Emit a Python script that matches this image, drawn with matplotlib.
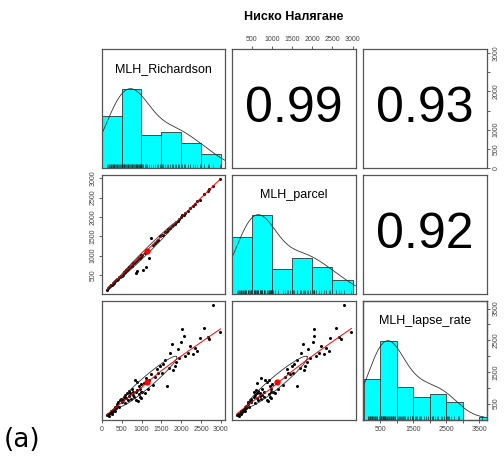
import numpy as np
import matplotlib
matplotlib.use("Agg")
import matplotlib.pyplot as plt

plt.rcParams['font.family'] = ['Liberation Sans', 'DejaVu Sans']

# ---------------- data ----------------
title = "Ниско Налягане"
var_names = ["MLH_Richardson", "MLH_parcel", "MLH_lapse_rate"]
corr_labels = ["0.99", "0.93", "0.92"]   # (R,P), (R,L), (P,L)
panel_label = "(a)"

mlh_richardson = [120, 160, 185, 210, 225, 240, 260, 275, 290, 305, 320, 340, 360, 375, 390, 410, 430, 455, 480,
                  510, 530, 550, 570, 590, 610, 630, 650, 670, 690, 710, 730, 750, 770, 790, 810, 830, 850, 865, 880,
                  895, 910, 925, 940, 955, 970, 980, 990, 995,
                  1020, 1050, 1080, 1110, 1150, 1190, 1230, 1280, 1330, 1380, 1420, 1470,
                  1520, 1550, 1600, 1640, 1680, 1720, 1760, 1800, 1840, 1880, 1910, 1950, 1990,
                  2030, 2060, 2100, 2170, 2230, 2300, 2350, 2400, 2470,
                  2580, 2670, 2700, 2800, 2990]
mlh_parcel = [125, 170, 180, 205, 235, 235, 255, 285, 280, 300, 330, 335, 365, 370, 400, 405, 440, 450, 475,
              470, 490, 560, 575, 580, 620, 625, 660, 665, 700, 705, 740, 745, 760, 800, 805, 840, 560, 870, 885,
              600, 915, 930, 945, 950, 975, 985, 985, 1010,
              1030, 640, 1075, 720, 1140, 930, 1460, 1270, 1320, 1370, 1410, 1510,
              1530, 1545, 1610, 1630, 1690, 1715, 1770, 1790, 1830, 1875, 1900, 1945, 2010,
              2050, 2040, 2090, 2160, 2220, 2290, 2340, 2410, 2450,
              2590, 2660, 2720, 2790, 2970]
mlh_lapse_rate = [140, 180, 120, 200, 260, 160, 230, 300, 250, 330, 280, 390, 350, 420, 480, 540, 380, 600, 650,
                  560, 620, 700, 520, 760, 680, 840, 600, 900, 740, 820, 640, 960, 780, 880, 700, 1230, 860, 620, 1180,
                  920, 580, 800, 1050, 720, 950, 660, 880, 1120,
                  880, 1150, 820, 1300, 950, 1250, 1420, 1100, 1350, 1580, 1480, 1700,
                  1480, 1750, 1880, 1060, 1620, 2100, 2390, 1560, 1690, 1820, 2220, 1950, 2450,
                  2860, 2640, 2010, 2110, 2330, 2070, 2250, 2160, 2560,
                  2880, 2600, 2540, 3600, 2750]

richardson_ticks = [0, 500, 1000, 1500, 2000, 2500, 3000]
richardson_bottom_labels = ["0", "500", "1000", "1500", "2000", "2500", "3000"]
richardson_right_labels = ["0", "500", "1000", "", "2000", "", "3000"]
parcel_ticks = [500, 1000, 1500, 2000, 2500, 3000]
parcel_labels = ["500", "1000", "1500", "2000", "2500", "3000"]
lapse_ticks = [500, 1000, 1500, 2000, 2500, 3000, 3500]
lapse_labels = ["500", "", "1500", "", "2500", "", "3500"]

data = [np.array(mlh_richardson, float), np.array(mlh_parcel, float), np.array(mlh_lapse_rate, float)]

# ---------------- helpers ----------------
def rlim(v):
    lo, hi = v.min(), v.max()
    d = 0.04 * (hi - lo)
    return lo - d, hi + d

def density(v):
    n = len(v)
    sd = np.std(v, ddof=1)
    q75, q25 = np.percentile(v, [75, 25])
    bw = 1.06 * min(sd, (q75 - q25) / 1.34) * n ** -0.2 * 1.2
    g = np.linspace(v.min() - 3 * bw, v.max() + 3 * bw, 512)
    d = np.exp(-0.5 * ((g[:, None] - v[None, :]) / bw) ** 2).sum(axis=1)
    return g, d / d.max()

def lowess(x, y, f=2 / 3, it=3):
    o = np.argsort(x)
    x = x[o]; y = y[o]
    n = len(x)
    r = int(np.ceil(f * n))
    rob = np.ones(n)
    yest = np.zeros(n)
    for _ in range(it + 1):
        for i in range(n):
            dist = np.abs(x - x[i])
            h = np.sort(dist)[r - 1]
            w = np.clip(dist / h, 0, 1)
            w = (1 - w ** 3) ** 3 * rob
            sw = w.sum()
            xm = (w * x).sum() / sw
            ym = (w * y).sum() / sw
            sxx = (w * (x - xm) ** 2).sum()
            b = (w * (x - xm) * (y - ym)).sum() / sxx if sxx > 0 else 0.0
            yest[i] = ym + b * (x[i] - xm)
        res = y - yest
        s = np.median(np.abs(res))
        u = np.clip(res / (6 * s), -1, 1)
        rob = (1 - u ** 2) ** 2
    return x, yest

def ellipse(xm, ym, xs, ys, r, seg=51):
    ang = np.arange(seg + 1) * 2 * np.pi / seg
    uc = np.column_stack([np.cos(ang), np.sin(ang)])
    th = np.sign(r) / np.sqrt(2)
    shape = np.diag([np.sqrt(1 + r), np.sqrt(1 - r)]) @ np.array([[th, th], [-th, th]])
    e = uc @ shape
    return e[:, 0] * xs + xm, e[:, 1] * ys + ym

# ---------------- figure ----------------
W, H = 504, 462
fig = plt.figure(figsize=(W / 100, H / 100), dpi=100)
col_x = [(102, 225), (232, 356), (363, 487)]
row_y = [(49, 168), (175, 294), (301, 420)]
frame_col = "#555555"
tick_col = "#444444"

def make_ax(r, c):
    x0, x1 = col_x[c]
    y0, y1 = row_y[r]
    ax = fig.add_axes([x0 / W, 1 - y1 / H, (x1 - x0) / W, (y1 - y0) / H])
    ax.set_xticks([]); ax.set_yticks([])
    for s in ax.spines.values():
        s.set_color(frame_col); s.set_linewidth(0.9)
    ax.tick_params(length=2.5, width=0.6, labelsize=5, pad=1.5, colors=tick_col)
    return ax

lims = [rlim(v) for v in data]
axes = [[make_ax(r, c) for c in range(3)] for r in range(3)]

# diagonal
for i in range(3):
    ax = axes[i][i]
    v = data[i]
    top = np.ceil(v.max() / 500) * 500
    edges = np.arange(0, top + 1, 500)
    counts, _ = np.histogram(v, bins=edges)
    ax.bar(edges[:-1], counts / counts.max(), width=np.diff(edges), align='edge',
           color='#00FFFF', edgecolor='#333333', linewidth=0.6)
    g, d = density(v)
    ax.plot(g, d, color='#333333', lw=0.6)
    ax.vlines(v, 0, 0.045, color='#111111', lw=0.4)
    ax.set_xlim(*lims[i]); ax.set_ylim(0, 1.5)
    ax.text(0.5, 0.835, var_names[i], transform=ax.transAxes, ha='center', va='center', fontsize=9)

# lower scatter panels
for i in range(3):
    for j in range(i):
        ax = axes[i][j]
        x = data[j]; y = data[i]
        ax.plot(x, y, 'o', ms=2.2, color='black', mec='none')
        r = np.corrcoef(x, y)[0, 1]
        ex, ey = ellipse(x.mean(), y.mean(), x.std(ddof=1), y.std(ddof=1), r)
        ax.plot(ex, ey, color='#333333', lw=0.6)
        lx, ly = lowess(x, y)
        ax.plot(lx, ly, color='red', lw=0.7)
        ax.plot([x.mean()], [y.mean()], 'o', ms=4.5, color='red', mec='none')
        ax.set_xlim(*lims[j]); ax.set_ylim(*lims[i])

# upper correlation panels
k = 0
for i in range(3):
    for j in range(i + 1, 3):
        ax = axes[i][j]
        ax.set_xlim(*lims[j]); ax.set_ylim(*lims[i])
        ax.text(0.5, 0.5, corr_labels[k], transform=ax.transAxes, ha='center', va='center', fontsize=36)
        k += 1

# outer axes
a = axes[0][1]
a.xaxis.tick_top()
a.set_xticks(parcel_ticks); a.set_xticklabels(parcel_labels)

a = axes[0][2]
a.yaxis.tick_right()
a.set_yticks(richardson_ticks); a.set_yticklabels(richardson_right_labels, rotation=90, va='center')

a = axes[1][0]
a.set_yticks(parcel_ticks); a.set_yticklabels(parcel_labels, rotation=90, va='center')

a = axes[2][0]
a.set_xticks(richardson_ticks); a.set_xticklabels(richardson_bottom_labels)

a = axes[2][2]
a.set_xticks(lapse_ticks); a.set_xticklabels(lapse_labels)
tw = a.twinx()
tw.set_ylim(*lims[2])
for s in tw.spines.values():
    s.set_color(frame_col); s.set_linewidth(0.9)
tw.tick_params(length=2.5, width=0.6, labelsize=5, pad=1.5, colors=tick_col)
tw.set_yticks(lapse_ticks); tw.set_yticklabels(lapse_labels, rotation=90, va='center')

fig.text(294 / W, 1 - 17 / H, title, ha='center', va='center', fontsize=9, fontweight='bold')
fig.text(4 / W, 1 - 440 / H, panel_label, ha='left', va='center', fontsize=19, family=['DejaVu Sans'])

fig.savefig("out.png", dpi=100, facecolor='white')
